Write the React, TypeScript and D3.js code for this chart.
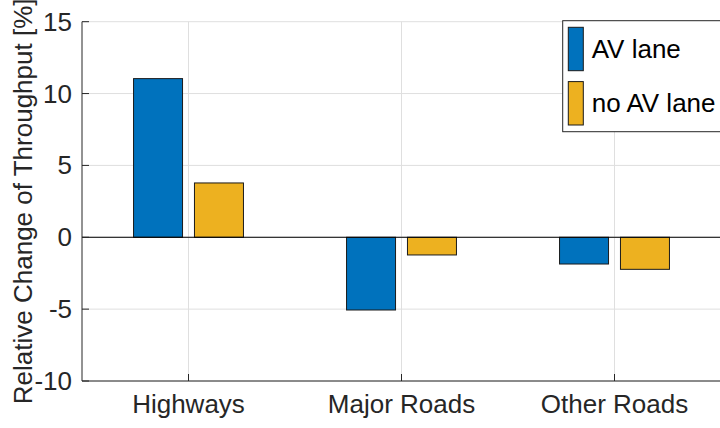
import React from "react";
import * as d3 from "d3";

const categories = ["Highways", "Major Roads", "Other Roads"];
const seriesNames = ["AV lane", "no AV lane"];
const avLane = [11.04, -5.06, -1.86];
const noAvLane = [3.78, -1.23, -2.23];
const yTicks = [-10, -5, 0, 5, 10, 15];
const colors = ["#0072BD", "#EDB120"];

const W = 720;
const H = 428;
const FONT = "'Liberation Sans', Arial, Helvetica, sans-serif";
const TXT = "#262626";
const FS = 26;

export default function App() {
  const left = 82;
  const top = 21.7;
  const bottom = 381;
  const x = d3.scaleLinear().domain([0.5, 3.5]).range([left, 721]);
  const y = d3.scaleLinear().domain([-10, 15]).range([bottom, top]);
  const series = [avLane, noAvLane];
  const barW = 0.23;
  const offsets = [-0.143, 0.143];

  return (
    <svg
      width={W}
      height={H}
      style={{ position: "absolute", left: 0, top: 0, background: "#fff" }}
      fontFamily={FONT}
    >
      {yTicks.map((t) => (
        <line key={"gy" + t} x1={left} x2={721} y1={y(t)} y2={y(t)} stroke="#dfdfdf" strokeWidth={1} />
      ))}
      {categories.map((c, i) => (
        <line key={"gx" + c} x1={x(i + 1)} x2={x(i + 1)} y1={top} y2={bottom} stroke="#dfdfdf" strokeWidth={1} />
      ))}
      {series.map((vals, s) =>
        vals.map((v, i) => {
          const cx = i + 1 + offsets[s];
          const x0 = x(cx - barW / 2);
          const x1 = x(cx + barW / 2);
          const y0 = y(Math.max(0, v));
          const y1 = y(Math.min(0, v));
          return (
            <rect
              key={s + "-" + i}
              x={x0}
              y={y0}
              width={x1 - x0}
              height={y1 - y0}
              fill={colors[s]}
              stroke="#1a1a1a"
              strokeWidth={1}
            />
          );
        })
      )}
      <line x1={left} x2={721} y1={y(0)} y2={y(0)} stroke="#000" strokeWidth={1} />
      <line x1={left} x2={left} y1={top} y2={bottom} stroke={TXT} strokeWidth={1} />
      <line x1={left} x2={721} y1={bottom} y2={bottom} stroke={TXT} strokeWidth={1} />
      {yTicks.map((t) => (
        <g key={"ty" + t}>
          <line x1={left} x2={left + 7} y1={y(t)} y2={y(t)} stroke={TXT} strokeWidth={1} />
          <text x={left - 10} y={y(t)} textAnchor="end" dominantBaseline="central" fontSize={FS} fill={TXT}>
            {t}
          </text>
        </g>
      ))}
      {categories.map((c, i) => (
        <g key={"tx" + c}>
          <line x1={x(i + 1)} x2={x(i + 1)} y1={bottom} y2={bottom - 7} stroke={TXT} strokeWidth={1} />
          <text x={x(i + 1)} y={413} textAnchor="middle" fontSize={FS} fill={TXT}>
            {c}
          </text>
        </g>
      ))}
      <text
        transform={`translate(32, ${(top + bottom) / 2}) rotate(-90)`}
        textAnchor="middle"
        fontSize={FS}
        fill={TXT}
      >
        Relative Change of Throughput [%]
      </text>
      <rect x={562.7} y={20.7} width={170} height={111} fill="#fff" stroke={TXT} strokeWidth={1} />
      {seriesNames.map((n, i) => {
        const cy = [49, 103.3][i];
        return (
          <g key={"lg" + n}>
            <rect x={568.3} y={cy - 21.7} width={15} height={43.4} fill={colors[i]} stroke="#1a1a1a" strokeWidth={1} />
            <text x={591.7} y={cy + 9} fontSize={FS} fill="#000">
              {n}
            </text>
          </g>
        );
      })}
    </svg>
  );
}
